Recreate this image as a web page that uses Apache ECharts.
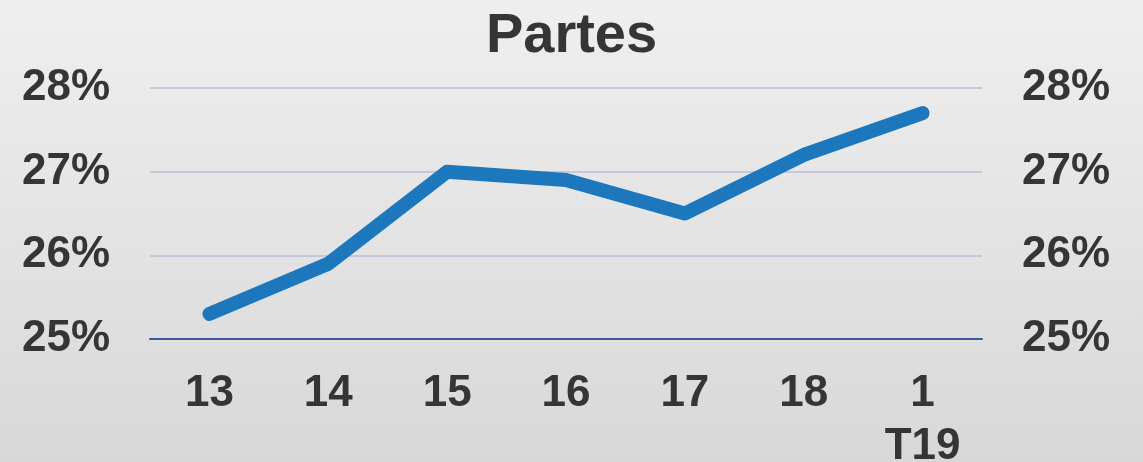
<!DOCTYPE html>
<html>
<head>
<meta charset="utf-8">
<script src="https://cdn.jsdelivr.net/npm/echarts@6/dist/echarts.min.js"></script>
<style>
  html, body { margin: 0; padding: 0; }
  #chart { width: 1143px; height: 462px; }
</style>
</head>
<body>
<div id="chart"></div>
<script>
  // periods on the x axis
  var categories = ['13', '14', '15', '16', '17', '18', '1\nT19'];
  // share, in percent
  var partes = [25.3, 25.9, 27.0, 26.9, 26.5, 27.2, 27.7];
  var yMin = 25, yMax = 28, yStep = 1;

  var font = '"Liberation Sans", Arial, sans-serif';
  var textColor = '#353535';

  var myChart = echarts.init(document.getElementById('chart'));

  var yLabel = {
    formatter: '{value}%',
    fontSize: 44,
    fontWeight: 'bold',
    fontFamily: font,
    color: textColor,
    margin: 40
  };

  var option = {
    animation: false,
    backgroundColor: new echarts.graphic.LinearGradient(0, 0, 0, 1, [
      { offset: 0, color: '#efefef' },
      { offset: 1, color: '#d8d8d8' }
    ]),
    title: {
      text: 'Partes',
      left: 'center',
      top: 4,
      textStyle: {
        fontSize: 56,
        fontWeight: 'bold',
        fontFamily: font,
        color: textColor
      }
    },
    grid: {
      left: 150,
      right: 161,
      top: 88,
      bottom: 123,
      outerBoundsMode: 'none'
    },
    xAxis: {
      type: 'category',
      data: categories,
      boundaryGap: true,
      axisLine: { lineStyle: { color: '#3b5998', width: 2 } },
      axisTick: { show: false },
      axisLabel: {
        fontSize: 44,
        fontWeight: 'bold',
        fontFamily: font,
        color: textColor,
        lineHeight: 53,
        margin: 28
      }
    },
    yAxis: [
      {
        type: 'value',
        position: 'left',
        min: yMin,
        max: yMax,
        interval: yStep,
        axisLine: { show: false },
        axisTick: { show: false },
        axisLabel: yLabel,
        splitLine: { lineStyle: { color: '#c5c8d8', width: 2 } }
      },
      {
        type: 'value',
        position: 'right',
        min: yMin,
        max: yMax,
        interval: yStep,
        axisLine: { show: false },
        axisTick: { show: false },
        axisLabel: yLabel,
        splitLine: { show: false }
      }
    ],
    series: [
      {
        name: 'Partes',
        type: 'line',
        data: partes,
        showSymbol: false,
        lineStyle: {
          color: '#1c77bd',
          width: 14,
          cap: 'round',
          join: 'round'
        }
      }
    ]
  };

  myChart.setOption(option);
</script>
</body>
</html>
